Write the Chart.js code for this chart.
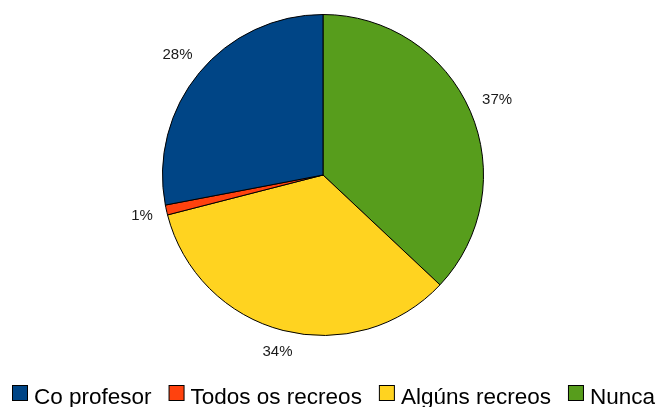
<!DOCTYPE html>
<html>
<head>
<meta charset="utf-8">
<script src="https://cdn.jsdelivr.net/npm/chart.js@4/dist/chart.umd.min.js"></script>
<style>
  html, body { margin: 0; padding: 0; background: #fff; overflow: hidden; }
  #wrap { width: 658px; height: 407px; position: relative; }
</style>
</head>
<body>
<div id="wrap"><canvas id="pie"></canvas></div>
<script>
// Categorías (orde da lenda)
const categories = ['Co profesor', 'Todos os recreos', 'Algúns recreos', 'Nunca'];
const percents = [28, 1, 34, 37];
const colors = ['#004586', '#ff420e', '#ffd320', '#579d1c'];

// O gráfico orixinal vai en sentido antihorario, así que inverto a orde para Chart.js
const order = [3, 2, 1, 0];

// Etiquetas de porcentaxe fóra de cada sector
const pctLabels = {
    id: 'pctLabels',
    afterDatasetsDraw(chart) {
        const ctx = chart.ctx;
        const meta = chart.getDatasetMeta(0);
        ctx.save();
        ctx.font = '15px "Liberation Sans", Arial, sans-serif';
        ctx.fillStyle = '#1a1a1a';
        ctx.textAlign = 'center';
        ctx.textBaseline = 'middle';
        meta.data.forEach((arc, i) => {
            const p = arc.getProps(['x', 'y', 'startAngle', 'endAngle', 'outerRadius']);
            const mid = (p.startAngle + p.endAngle) / 2;
            const txt = chart.data.datasets[0].data[i] + '%';
            const w = ctx.measureText(txt).width;
            const h = 12;
            const c = Math.cos(mid), s = Math.sin(mid);
            const d = p.outerRadius + 13 + Math.abs(c) * w / 2 + Math.abs(s) * h / 2;
            ctx.fillText(txt, p.x + c * d, p.y + s * d);
        });
        ctx.restore();
    }
};

// Lenda debuxada á man (a de Chart.js partiría a liña)
const bottomLegend = {
    id: 'bottomLegend',
    afterDraw(chart) {
        const ctx = chart.ctx;
        ctx.save();
        ctx.font = '22.5px "Liberation Sans", Arial, sans-serif';
        ctx.textBaseline = 'alphabetic';
        ctx.textAlign = 'left';
        let x = 12;
        categories.forEach((name, i) => {
            ctx.fillStyle = colors[i];
            ctx.fillRect(x + 0.5, 385.5, 15, 15);
            ctx.strokeStyle = '#000';
            ctx.lineWidth = 1;
            ctx.strokeRect(x + 0.5, 385.5, 15, 15);
            ctx.fillStyle = '#000';
            ctx.fillText(name, x + 22, 404);
            x += 22 + ctx.measureText(name).width + 17;
        });
        ctx.restore();
    }
};

new Chart(document.getElementById('pie'), {
    type: 'pie',
    data: {
        labels: order.map(i => categories[i]),
        datasets: [{
            data: order.map(i => percents[i]),
            backgroundColor: order.map(i => colors[i]),
            borderColor: '#000',
            borderWidth: 1
        }]
    },
    options: {
        responsive: true,
        maintainAspectRatio: false,
        animation: false,
        layout: { padding: { top: 14, bottom: 71, left: 0, right: 12 } },
        plugins: {
            legend: { display: false },
            tooltip: { enabled: false }
        }
    },
    plugins: [pctLabels, bottomLegend]
});
</script>
</body>
</html>
